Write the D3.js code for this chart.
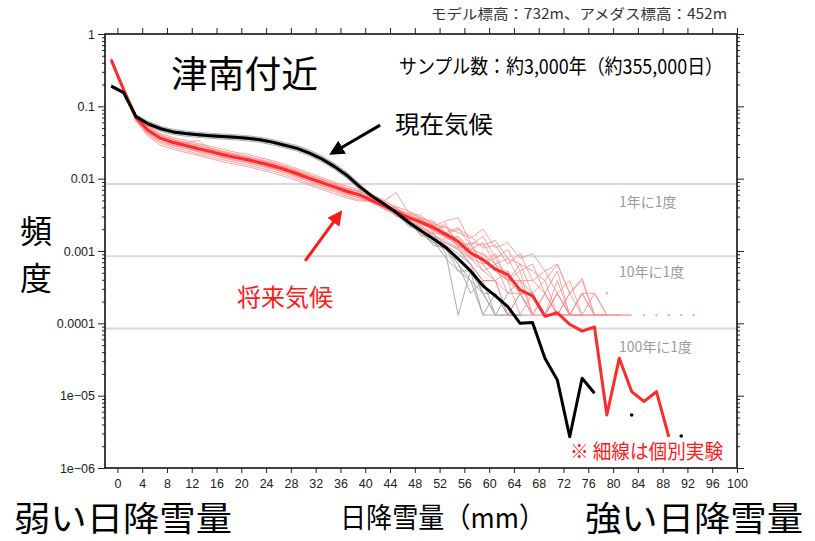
<!DOCTYPE html>
<html>
<head>
<meta charset="utf-8">
<script src="https://cdn.jsdelivr.net/npm/d3@7"></script>
<style>
body { margin: 0; background: #fff; }
svg { display: block; }
.jp { font-family: "Noto Sans CJK JP", sans-serif; }
.tick text { font-family: "Liberation Sans", Arial, sans-serif; font-size: 12.5px; fill: #222; }
</style>
</head>
<body>
<svg width="815" height="541"></svg>
<script>
// bin centres (mm), 2mm bins
const binMid = [-1, 1, 3, 5, 7, 9, 11, 13, 15, 17, 19, 21, 23, 25, 27, 29, 31, 33, 35, 37, 39,
  41, 43, 45, 47, 49, 51, 53, 55, 57, 59, 61, 63, 65, 67, 69, 71, 73, 75, 77, 79, 81, 83, 85, 87, 89, 91, 93]

// ensemble mean, present climate (black)
const presentMean = [0.19, 0.155, 0.072, 0.057, 0.049, 0.0443, 0.042, 0.0404, 0.0392, 0.0383, 0.0375,
  0.0362, 0.0345, 0.032, 0.029, 0.0262, 0.0226, 0.0187, 0.0148, 0.0112, 0.0079,
  0.0058, 0.0045, 0.0034, 0.0025, 0.0019, 0.00148, 0.00112, 0.00078, 0.00053, 0.00033,
  0.00024, 0.00017, 0.0001, 0.000103, 3.3e-5, 1.65e-5, 2.7e-6, 1.74e-5, 1.08e-5,
  null, null, 5.4e-6, null, null, null, 2.77e-6]

// ensemble mean, future climate (red)
const futureMean = [0.44, 0.17, 0.07, 0.046, 0.036, 0.0316, 0.0288, 0.026, 0.0237, 0.0215, 0.0197,
  0.0183, 0.0166, 0.0151, 0.0134, 0.0117, 0.0101, 0.0088, 0.0077, 0.0067, 0.006,
  0.005, 0.0042, 0.0035, 0.0029, 0.0025, 0.0021, 0.0017, 0.00135, 0.00094, 0.00076,
  0.00056, 0.00047, 0.00029, 0.00024, 0.000125, 0.00014, 9.7e-5, 7.8e-5, 8.9e-5,
  5.4e-6, 3.3e-5, 1.14e-5, 8.3e-6, 1.14e-5, 2.7e-6]

// individual experiments, present climate (thin gray)
const presentRuns = [
  [0.2, 0.162, 0.077, 0.062, 0.053, 0.048, 0.0455, 0.0437, 0.0424, 0.0414, 0.0405, 0.0392, 0.0374, 0.0348, 0.0316, 0.0287, 0.0248, 0.0206, 0.0163, 0.0123, 0.0087,
    0.006, 0.0045, 0.0035, 0.0027, 0.0021, 0.0017, 0.0012, 0.00092, 6.6e-4, 3.9e-4, 3.9e-4, 1.3e-4, 2.6e-4, 1.3e-4],
  [0.183, 0.149, 0.067, 0.053, 0.045, 0.0408, 0.0387, 0.0372, 0.0361, 0.0353, 0.0345, 0.0333, 0.0317, 0.0294, 0.0266, 0.024, 0.0207, 0.0171, 0.0135, 0.0102, 0.0071,
    0.0053, 0.0041, 0.0031, 0.0024, 0.0017, 0.0013, 0.00105, 6.6e-4, 3.9e-4, 2.6e-4, 1.3e-4, 1.3e-4, 1.3e-4],
  [0.19, 0.156, 0.073, 0.059, 0.048, 0.046, 0.041, 0.042, 0.038, 0.04, 0.0365, 0.0378, 0.0335, 0.0333, 0.0282, 0.0275, 0.022, 0.0197, 0.0143, 0.0118, 0.0076,
    0.0057, 0.0047, 0.003, 0.0028, 0.0016, 0.0018, 9.2e-4, 1.3e-4, 5.3e-4, 2.6e-4, 1.3e-4, 2.6e-4],
  [0.192, 0.157, 0.074, 0.0595, 0.051, 0.046, 0.0437, 0.042, 0.0408, 0.0398, 0.039, 0.0377, 0.036, 0.0335, 0.0304, 0.0276, 0.0239, 0.0199, 0.0158, 0.012, 0.0084,
    0.0054, 0.0039, 0.0033, 0.0022, 0.0019, 0.0012, 0.0011, 5.3e-4, 5.3e-4, 1.3e-4, 2.6e-4, 1.3e-4, 1.3e-4, 1.3e-4],
  [0.187, 0.153, 0.07, 0.055, 0.047, 0.0425, 0.0403, 0.0388, 0.0376, 0.0368, 0.036, 0.0348, 0.0331, 0.0307, 0.0278, 0.0251, 0.0216, 0.0178, 0.014, 0.0105, 0.0074,
    0.0058, 0.0044, 0.0036, 0.0025, 0.002, 0.0014, 0.0013, 0.00105, 6.6e-4, 2.6e-4, 2.6e-4, 1.3e-4],
  [0.19, 0.155, 0.0725, 0.0572, 0.049, 0.0445, 0.0422, 0.0406, 0.0393, 0.0385, 0.0376, 0.0363, 0.0347, 0.0321, 0.0291, 0.0263, 0.0227, 0.0189, 0.015, 0.0113, 0.008,
    0.0057, 0.0046, 0.0032, 0.0026, 0.0018, 0.0014, 7.9e-4, 5.3e-4, 3.9e-4, 1.3e-4, 1.3e-4, 1.3e-4, 1.3e-4],
  [0.189, 0.154, 0.0718, 0.0568, 0.0488, 0.0441, 0.0419, 0.0402, 0.0391, 0.0381, 0.0373, 0.036, 0.0343, 0.0318, 0.0288, 0.026, 0.0224, 0.0184, 0.0146, 0.011, 0.0077,
    0.0055, 0.0042, 0.0034, 0.0023, 0.0018, 0.00131, 0.0012, 6.6e-4, 2.6e-4, 3.9e-4, 1.3e-4, null, 1.3e-4]
]

// individual experiments, future climate (thin pink)
const futureRuns = [
  [0.47, 0.18, 0.078, 0.053, 0.042, 0.037, 0.034, 0.0305, 0.028, 0.0255, 0.0232, 0.0218, 0.0196, 0.0178, 0.0158, 0.0138, 0.0119, 0.0104, 0.009, 0.0079, 0.0071,
    0.0062, 0.005, 0.0039, 0.0033, 0.0029, 0.0024, 0.0021, 0.0018, 0.0015, 0.002, 0.0011, 0.0013, 7.9e-4, 9.2e-4, 5.3e-4, 6.6e-4, 2.6e-4, 3.9e-4, 1.3e-4, 1.3e-4, 1.3e-4],
  [0.41, 0.16, 0.064, 0.04, 0.031, 0.027, 0.0245, 0.022, 0.02, 0.0183, 0.0168, 0.0155, 0.0141, 0.0128, 0.0114, 0.0099, 0.0086, 0.0075, 0.0066, 0.0057, 0.0051,
    0.0049, 0.0041, 0.0033, 0.0027, 0.0022, 0.0018, 0.0016, 0.00118, 7.9e-4, 6.6e-4, 3.9e-4, 5.3e-4, 2.6e-4, 1.3e-4, 2.6e-4, 1.3e-4, null, null, null, null, null, null, 1.3e-4],
  [0.45, 0.175, 0.073, 0.05, 0.037, 0.035, 0.028, 0.029, 0.023, 0.0235, 0.019, 0.0198, 0.0158, 0.0165, 0.0128, 0.0128, 0.0096, 0.0097, 0.0073, 0.0073, 0.0058,
    0.0055, 0.0045, 0.0037, 0.0031, 0.0026, 0.0023, 0.0017, 0.0015, 0.00105, 9.2e-4, 6.6e-4, 3.9e-4, 3.9e-4, 2.6e-4, 1.3e-4, 1.3e-4, 2.6e-4, 1.3e-4, null, null, null, null, null, null, 1.3e-4],
  [0.42, 0.165, 0.066, 0.042, 0.033, 0.029, 0.0265, 0.024, 0.0218, 0.0198, 0.0181, 0.0168, 0.0153, 0.0139, 0.0123, 0.0108, 0.0093, 0.0081, 0.0071, 0.0062, 0.0055,
    0.0048, 0.004, 0.0034, 0.0028, 0.0024, 0.002, 0.0015, 0.00131, 9.2e-4, 7.9e-4, 5.3e-4, 3.9e-4, 1.3e-4, 2.6e-4, 1.3e-4, 2.6e-4, 1.3e-4, 2.6e-4, 1.3e-4],
  [0.45, 0.171, 0.071, 0.047, 0.04, 0.03, 0.032, 0.0245, 0.026, 0.02, 0.0215, 0.0172, 0.0182, 0.014, 0.0148, 0.0108, 0.0112, 0.0081, 0.0085, 0.0062, 0.0066,
    0.0058, 0.0041, 0.004, 0.0027, 0.0029, 0.0019, 0.0022, 0.0013, 0.0012, 6.6e-4, 9.2e-4, 3.9e-4, 6.6e-4, 2.6e-4, 3.9e-4, 1.3e-4, 2.6e-4, null, null, null, 1.3e-4, 1.3e-4, null, 1.3e-4],
  [0.46, 0.175, 0.075, 0.05, 0.0395, 0.0347, 0.0316, 0.0286, 0.026, 0.0236, 0.0216, 0.02, 0.0182, 0.0166, 0.0147, 0.0128, 0.0111, 0.0097, 0.0085, 0.0074, 0.0066,
    0.005, 0.0044, 0.0034, 0.003, 0.0023, 0.0021, 0.0016, 0.0012, 0.00105, 5.3e-4, 6.6e-4, 2.6e-4, 3.9e-4, 1.3e-4, 1.3e-4, 2.6e-4, 1.3e-4, 1.3e-4, 2.6e-4, 1.3e-4, null, null, null, null, null, 1.3e-4],
  [0.44, 0.17, 0.07, 0.046, 0.036, 0.033, 0.031, 0.034, 0.026, 0.023, 0.021, 0.0195, 0.0175, 0.016, 0.0142, 0.0122, 0.0105, 0.0092, 0.008, 0.007, 0.0062,
    0.0053, 0.0043, 0.0036, 0.0029, 0.0025, 0.0022, 0.0018, 0.0014, 7.9e-4, 9.2e-4, 5.3e-4, 5.3e-4, 2.6e-4, 2.6e-4, 1.3e-4, 3.9e-4, 1.3e-4, 2.6e-4, 1.3e-4, 1.3e-4, null, null, null, null, null, null, 1.3e-4],
  [0.4, 0.158, 0.062, 0.038, 0.029, 0.0255, 0.023, 0.021, 0.019, 0.0172, 0.0158, 0.0147, 0.0133, 0.0121, 0.0107, 0.0094, 0.0081, 0.0071, 0.0062, 0.0054, 0.0049,
    0.0049, 0.0042, 0.0032, 0.0026, 0.0021, 0.0016, 0.0014, 0.0011, 6.6e-4, 3.9e-4, 3.9e-4, 1.3e-4, 2.6e-4, 1.3e-4],
  [0.44, 0.17, 0.072, 0.049, 0.038, 0.033, 0.031, 0.027, 0.025, 0.023, 0.021, 0.0188, 0.0178, 0.0158, 0.0142, 0.0125, 0.0108, 0.0094, 0.0082, 0.0072, 0.0068,
    0.0055, 0.0049, 0.0064, 0.0034, 0.0031, 0.0022, 0.0026, 0.0029, 0.0013, 0.0012, 0.0014, 7.9e-4, 6.6e-4, 5.3e-4, 3.9e-4, 6.6e-4, 2.6e-4, 4.2e-4, 1.3e-4],
  [0.45, 0.172, 0.074, 0.051, 0.04, 0.035, 0.032, 0.029, 0.0265, 0.024, 0.022, 0.0205, 0.0186, 0.0169, 0.015, 0.0131, 0.0113, 0.0099, 0.0086, 0.0075, 0.0067,
    0.0058, 0.0049, 0.0041, 0.0036, 0.0028, 0.0026, 0.0018, 0.0021, 0.0012, 0.0016, 7.9e-4, 0.00105, 5.3e-4, 6.6e-4, 2.6e-4, 5.3e-4, 1.3e-4, 2.6e-4, 2.6e-4, 1.3e-4],
  [0.42, 0.163, 0.065, 0.041, 0.0325, 0.0285, 0.026, 0.0234, 0.0213, 0.0194, 0.0177, 0.0165, 0.015, 0.0136, 0.0121, 0.0105, 0.0091, 0.0079, 0.0069, 0.006, 0.0054,
    0.0047, 0.0038, 0.0031, 0.0026, 0.0021, 0.0017, 0.0013, 0.00105, 7.9e-4, 5.3e-4, 3.9e-4, 2.6e-4, 2.6e-4, 1.3e-4, 1.3e-4, 2.6e-4, 1.3e-4, 1.3e-4],
  [0.44, 0.169, 0.069, 0.048, 0.035, 0.033, 0.0278, 0.027, 0.0228, 0.0222, 0.0188, 0.019, 0.016, 0.0157, 0.0127, 0.0124, 0.0096, 0.0093, 0.0074, 0.0071, 0.0057,
    0.0056, 0.0042, 0.0039, 0.003, 0.0027, 0.0019, 0.0024, 0.0011, 0.0013, 6.6e-4, 7.9e-4, 3.9e-4, 5.3e-4, 1.3e-4, 2.6e-4, 1.3e-4, 1.3e-4, 1.3e-4, 1.3e-4, 1.3e-4, 1.3e-4, 1.3e-4],
  [0.45, 0.172, 0.071, 0.047, 0.037, 0.0325, 0.0297, 0.0268, 0.0244, 0.0221, 0.0203, 0.0188, 0.0171, 0.0156, 0.0138, 0.012, 0.0104, 0.0091, 0.0079, 0.0069, 0.0062,
    0.0054, 0.0046, 0.0038, 0.0032, 0.0027, 0.0023, 0.0017, 0.002, 0.0016, 0.0011, 0.0012, 6.6e-4, 9.2e-4, 3.9e-4, 5.3e-4, 2.6e-4, 3.9e-4, 1.3e-4, 1.3e-4],
  [0.43, 0.166, 0.068, 0.044, 0.035, 0.0298, 0.0276, 0.0245, 0.0228, 0.0202, 0.019, 0.0172, 0.016, 0.0142, 0.0129, 0.011, 0.0097, 0.0083, 0.0074, 0.0063, 0.0058,
    0.0051, 0.0046, 0.0033, 0.0031, 0.0023, 0.0025, 0.0015, 0.0016, 0.00105, 0.0013, 6.6e-4, 7.9e-4, 3.9e-4, 3.9e-4, 2.6e-4, 1.3e-4, 1.3e-4, null, null, 2.6e-4],
  [0.44, 0.17, 0.07, 0.0465, 0.0362, 0.0319, 0.0292, 0.0263, 0.0239, 0.0216, 0.0199, 0.0184, 0.0167, 0.0152, 0.0135, 0.0118, 0.0102, 0.0089, 0.0078, 0.0068, 0.0061,
    0.0053, 0.0044, 0.0036, 0.0029, 0.0024, 0.0019, 0.0016, 0.0012, 9.2e-4, 7.9e-4, 5.3e-4, 3.9e-4, 2.6e-4, 2.6e-4, 1.3e-4, 1.3e-4, 1.3e-4, 1.3e-4, 1.3e-4, 1.3e-4, 1.3e-4]
]

// "once in N years" reference levels (about 118 snow days per year)
const returnLevels = [0.00845, 0.000845, 0.0000845]
const returnLabels = ["1年に1度", "10年に1度", "100年に1度"]

const xTicks = [0, 4, 8, 12, 16, 20, 24, 28, 32, 36, 40, 44, 48, 52, 56, 60, 64, 68, 72, 76, 80, 84, 88, 92, 96, 100]
const yTicks = [1, 0.1, 0.01, 0.001, 0.0001, 0.00001, 0.000001]
const yTickLabels = ["1", "0.1", "0.01", "0.001", "0.0001", "1e\u221205", "1e\u221206"]

const svg = d3.select("svg")

// plot area
const plotLeft = 105, plotRight = 737, plotTop = 34, plotBottom = 468

const x = d3.scaleLinear().domain([-2, 100]).range([plotLeft, plotRight])
const y = d3.scaleLog().domain([1e-6, 1]).range([plotBottom, plotTop])

const minorTicks = y.ticks().filter(v => yTicks.indexOf(v) < 0)

// grid lines for return levels
svg.append("g")
    .selectAll("line")
    .data(returnLevels)
    .join("line")
    .attr("x1", plotLeft)
    .attr("x2", plotRight)
    .attr("y1", d => y(d))
    .attr("y2", d => y(d))
    .attr("stroke", "#d9d9d9")
    .attr("stroke-width", 2)

// turn an array of values into points
function toPoints(arr) {
    return binMid.map((m, i) => ({ x: m, v: arr[i] == null ? null : arr[i] }))
}

const line = d3.line()
    .defined(d => d.v != null)
    .x(d => x(d.x))
    .y(d => y(d.v))

// points with no neighbour get drawn as a dot
function lonely(arr) {
    return toPoints(arr).filter((d, i, a) => d.v != null &&
        (i == 0 || a[i - 1].v == null) && (i == a.length - 1 || a[i + 1].v == null))
}

function drawSeries(g, arr, color, width, opacity, r) {
    g.append("path")
        .datum(toPoints(arr))
        .attr("d", line)
        .attr("fill", "none")
        .attr("stroke", color)
        .attr("stroke-width", width)
        .attr("stroke-opacity", opacity)
        .attr("stroke-linejoin", "round")
    g.selectAll(null)
        .data(lonely(arr))
        .join("circle")
        .attr("cx", d => x(d.x))
        .attr("cy", d => y(d.v))
        .attr("r", r)
        .attr("fill", color)
        .attr("fill-opacity", opacity)
}

const plot = svg.append("g")

presentRuns.forEach(run => drawSeries(plot, run, "#a3a3a3", 1, 0.9, 1.2))
futureRuns.forEach(run => drawSeries(plot, run, "#ff8a8a", 1, 0.8, 1.2))
drawSeries(plot, futureMean, "#ff2b2b", 3, 1, 1.8)
drawSeries(plot, presentMean, "#000", 3, 1, 1.8)

// axes
svg.append("g")
    .attr("transform", `translate(0,${plotBottom})`)
    .call(d3.axisBottom(x).tickValues(xTicks).tickSize(5).tickSizeOuter(0).tickPadding(6))
    .call(g => g.select(".domain").remove())

svg.append("g")
    .attr("transform", `translate(0,${plotTop})`)
    .call(d3.axisTop(x).tickValues(xTicks).tickSize(6).tickSizeOuter(0).tickFormat(""))
    .call(g => g.select(".domain").remove())

svg.append("g")
    .attr("transform", `translate(${plotLeft},0)`)
    .call(d3.axisLeft(y).tickValues(yTicks).tickSize(7).tickSizeOuter(0).tickPadding(3)
        .tickFormat((d, i) => yTickLabels[i]))
    .call(g => g.select(".domain").remove())

svg.append("g")
    .attr("transform", `translate(${plotLeft},0)`)
    .call(d3.axisLeft(y).tickValues(minorTicks).tickSize(3).tickSizeOuter(0).tickFormat(""))
    .call(g => g.select(".domain").remove())

svg.append("g")
    .attr("transform", `translate(${plotRight},0)`)
    .call(d3.axisRight(y).tickValues(yTicks).tickSize(7).tickSizeOuter(0).tickFormat(""))
    .call(g => g.select(".domain").remove())

svg.append("g")
    .attr("transform", `translate(${plotRight},0)`)
    .call(d3.axisRight(y).tickValues(minorTicks).tickSize(3).tickSizeOuter(0).tickFormat(""))
    .call(g => g.select(".domain").remove())

svg.selectAll(".tick line").attr("stroke", "#222")

// frame
svg.append("rect")
    .attr("x", plotLeft)
    .attr("y", plotTop)
    .attr("width", plotRight - plotLeft)
    .attr("height", plotBottom - plotTop)
    .attr("fill", "none")
    .attr("stroke", "#111")
    .attr("stroke-width", 1.6)

// return level labels
svg.append("g")
    .selectAll("text")
    .data(returnLabels)
    .join("text")
    .attr("class", "jp")
    .attr("x", 619)
    .attr("y", (d, i) => [207, 277, 352][i])
    .attr("font-size", 14)
    .attr("fill", "#9a9a9a")
    .text(d => d)

// arrows
svg.append("defs").selectAll("marker")
    .data([["headBlack", "#000"], ["headRed", "#ff1a1a"]])
    .join("marker")
    .attr("id", d => d[0])
    .attr("viewBox", "0 0 10 10")
    .attr("refX", 8)
    .attr("refY", 5)
    .attr("markerWidth", 5)
    .attr("markerHeight", 5)
    .attr("orient", "auto")
    .append("path")
    .attr("d", "M0,0L10,5L0,10z")
    .attr("fill", d => d[1])

const arrows = [
    { from: [42.4, 0.055], to: [34.6, 0.0225], color: "#000", marker: "headBlack" },
    { from: [30.3, 0.00073], to: [36.0, 0.0034], color: "#ff1a1a", marker: "headRed" }
]

svg.append("g")
    .selectAll("line")
    .data(arrows)
    .join("line")
    .attr("x1", d => x(d.from[0]))
    .attr("y1", d => y(d.from[1]))
    .attr("x2", d => x(d.to[0]))
    .attr("y2", d => y(d.to[1]))
    .attr("stroke", d => d.color)
    .attr("stroke-width", 3)
    .attr("marker-end", d => `url(#${d.marker})`)

// texts
function label(txt, px, py, size, color, len) {
    const t = svg.append("text")
        .attr("class", "jp")
        .attr("x", px)
        .attr("y", py)
        .attr("font-size", size)
        .attr("fill", color)
        .text(txt)
    if (len) t.attr("textLength", len).attr("lengthAdjust", "spacingAndGlyphs")
    return t
}

label("モデル標高：732m、アメダス標高：452m", 431, 19, 14, "#333", 296)
label("津南付近", 171, 88, 37, "#000", 147)
label("サンプル数：約3,000年（約355,000日）", 399, 74, 20, "#000", 324)
label("現在気候", 395, 133, 24, "#000", 98)
label("将来気候", 237, 306, 24, "#ff1a1a", 96)
label("頻", 20, 243, 32, "#000")
label("度", 20, 290, 32, "#000")
label("※ 細線は個別実験", 570, 459, 20, "#ff1a1a", 153)
label("弱い日降雪量", 14, 531, 34, "#000", 218)
label("日降雪量（mm）", 340, 528, 28, "#000", 205)
label("強い日降雪量", 585, 531, 34, "#000", 218)
</script>
</body>
</html>
